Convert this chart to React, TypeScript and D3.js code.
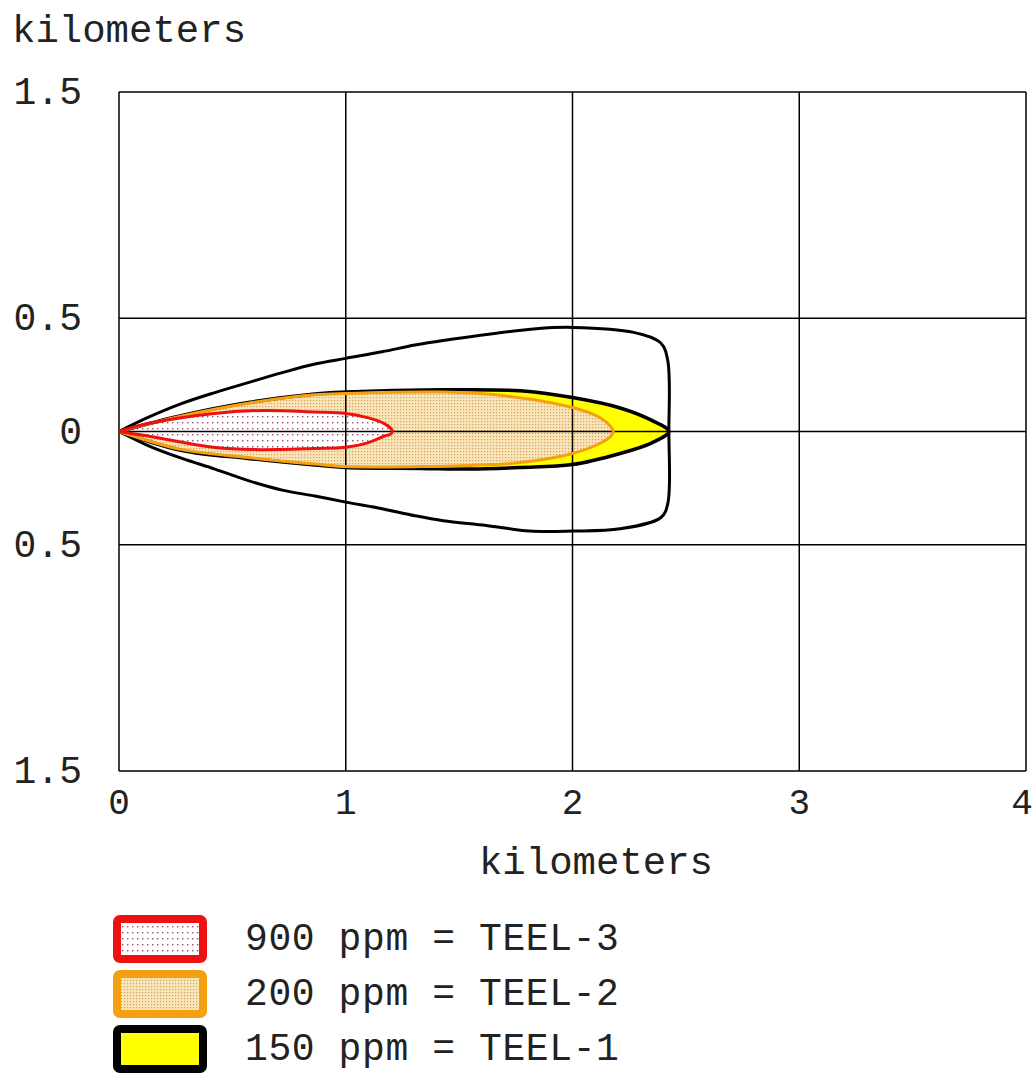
import React from 'react'
import * as d3 from 'd3'

// contour points in kilometers (downwind x, crosswind y)
const outerLine: [number, number][] = [
  [0, 0], [0.128, 0.062], [0.278, 0.124], [0.423, 0.172], [0.57, 0.216], [0.72, 0.26],
  [0.864, 0.298], [1.0, 0.323], [1.16, 0.352], [1.305, 0.382], [1.43, 0.402], [1.84, 0.454],
  [2.0, 0.46], [2.27, 0.438], [2.39, 0.39], [2.42, 0.314], [2.425, 0.0], [2.42, -0.32],
  [2.39, -0.38], [2.21, -0.43], [2.0, -0.44], [1.81, -0.44], [1.62, -0.415], [1.43, -0.394],
  [1.305, -0.372], [1.16, -0.341], [1.0, -0.312], [0.864, -0.285], [0.72, -0.259],
  [0.57, -0.217], [0.423, -0.166], [0.278, -0.119], [0.128, -0.062], [0, 0],
]

const teel1: [number, number][] = [
  [0, 0], [0.278, 0.071], [0.57, 0.128], [0.864, 0.166], [1.0, 0.174], [1.42, 0.184], [1.77, 0.18],
  [2.0, 0.15], [2.21, 0.104], [2.35, 0.049], [2.425, 0],
  [2.35, -0.05], [2.21, -0.097], [2.0, -0.146], [1.77, -0.159], [1.55, -0.166], [1.33, -0.163],
  [1.0, -0.159], [0.864, -0.148], [0.57, -0.119], [0.278, -0.084], [0, 0],
]

const teel2: [number, number][] = [
  [0, 0], [0.278, 0.069], [0.57, 0.125], [0.864, 0.162], [1.0, 0.168], [1.42, 0.174], [1.69, 0.159],
  [2.0, 0.106], [2.12, 0.062], [2.17, 0.02], [2.18, 0],
  [2.17, -0.02], [2.12, -0.053], [2.0, -0.097], [1.77, -0.137], [1.55, -0.15], [1.33, -0.155],
  [1.0, -0.155], [0.864, -0.144], [0.57, -0.115], [0.278, -0.08], [0, 0],
]

const teel3: [number, number][] = [
  [0, 0], [0.128, 0.035], [0.42, 0.08], [0.64, 0.093], [0.864, 0.086], [1.0, 0.08], [1.1, 0.06],
  [1.17, 0.035], [1.2, 0.012], [1.205, 0],
  [1.2, -0.01], [1.17, -0.02], [1.1, -0.049], [1.0, -0.07], [0.864, -0.075], [0.6, -0.08],
  [0.423, -0.071], [0.128, -0.02], [0, 0],
]

const xTicks = [0, 1, 2, 3, 4]
const yTicks = [1.5, 0.5, 0, -0.5, -1.5]
const yTickLabels = ['1.5', '0.5', '0', '0.5', '1.5']

const legendLabels = ['900 ppm = TEEL-3', '200 ppm = TEEL-2', '150 ppm = TEEL-1']
const legendStroke = ['#ee1111', '#f5a010', '#000000']
const legendFill = ['url(#dotsRed)', 'url(#dotsTan)', '#ffff00']

const font = '"Liberation Mono", "Courier New", monospace'

export default function App() {
  const x = d3.scaleLinear().domain([0, 4]).range([119, 1026])
  const y = d3.scaleLinear().domain([-1.5, 1.5]).range([771, 92])

  const line = d3.line<[number, number]>()
    .x(d => x(d[0]))
    .y(d => y(d[1]))
    .curve(d3.curveCatmullRom.alpha(0.5))

  return (
    <svg width={1036} height={1074} style={{ position: 'absolute', left: 0, top: 0, background: '#fff' }}>
      <defs>
        <pattern id="dotsRed" width={5} height={6} patternUnits="userSpaceOnUse">
          <rect width={5} height={6} fill="#ffffff" />
          <rect x={2} y={2} width={1.4} height={1.4} fill="#9a5070" />
        </pattern>
        <pattern id="dotsTan" width={3} height={3} patternUnits="userSpaceOnUse">
          <rect width={3} height={3} fill="#f7e6bc" />
          <rect x={1} y={1} width={1.2} height={1.2} fill="#e0a050" />
        </pattern>
      </defs>

      {/* fills */}
      <path d={line(teel1) || ''} fill="#ffff00" stroke="none" />
      <path d={line(teel2) || ''} fill="url(#dotsTan)" stroke="none" />
      <path d={line(teel3) || ''} fill="url(#dotsRed)" stroke="none" />

      {/* grid */}
      <g stroke="#000" strokeWidth={1.5}>
        {xTicks.map(t => (
          <line key={'vx' + t} x1={x(t)} x2={x(t)} y1={y(1.5)} y2={y(-1.5)} />
        ))}
        {yTicks.map(t => (
          <line key={'hy' + t} x1={x(0)} x2={x(4)} y1={y(t)} y2={y(t)} />
        ))}
      </g>

      {/* contour outlines */}
      <path d={line(outerLine) || ''} fill="none" stroke="#000" strokeWidth={3} strokeLinejoin="round" />
      <path d={line(teel1) || ''} fill="none" stroke="#000" strokeWidth={3.5} strokeLinejoin="round" />
      <path d={line(teel2) || ''} fill="none" stroke="#f5a010" strokeWidth={3} strokeLinejoin="round" />
      <path d={line(teel3) || ''} fill="none" stroke="#ee1111" strokeWidth={3} strokeLinejoin="round" />

      {/* axis labels */}
      <g fontFamily={font} fill="#222">
        <text x={12} y={42} fontSize={39}>kilometers</text>
        {yTicks.map((t, i) => (
          <text key={'yl' + i} x={82} y={y(t) + 12} fontSize={38} textAnchor="end">{yTickLabels[i]}</text>
        ))}
        {xTicks.map(t => (
          <text key={'xl' + t} x={Math.min(x(t), 1022)} y={814} fontSize={36} textAnchor="middle">{t}</text>
        ))}
        <text x={596} y={874} fontSize={39} textAnchor="middle">kilometers</text>
      </g>

      {/* legend */}
      <g>
        {legendLabels.map((lab, i) => (
          <g key={lab} transform={`translate(0, ${i * 55})`}>
            <rect x={117} y={919} width={86} height={40} rx={3}
              fill={legendFill[i]} stroke={legendStroke[i]} strokeWidth={8} />
            <text x={245} y={950} fontFamily={font} fontSize={38} letterSpacing={0.6} fill="#222">{lab}</text>
          </g>
        ))}
      </g>
    </svg>
  )
}
